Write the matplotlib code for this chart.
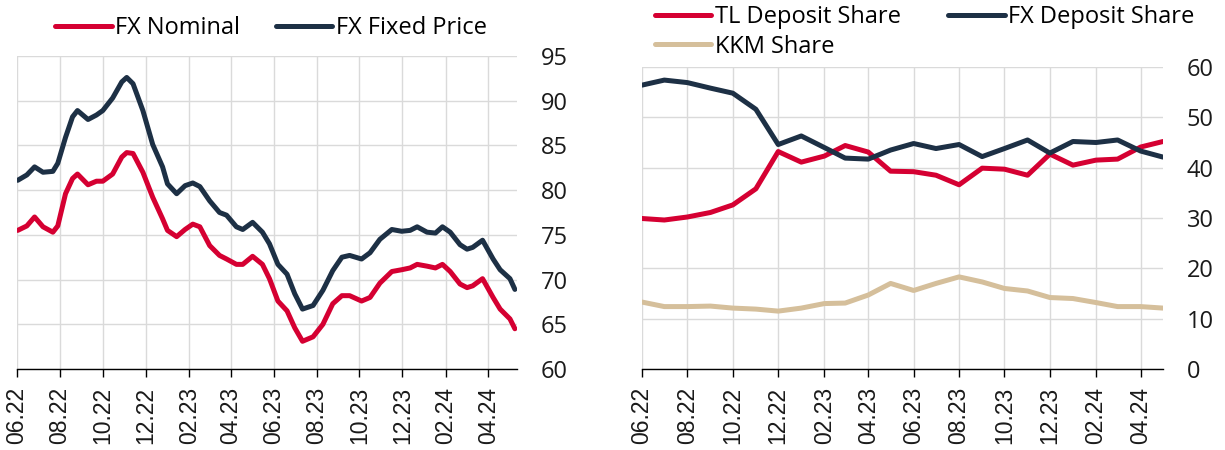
import matplotlib
matplotlib.use('Agg')
import matplotlib.pyplot as plt
import matplotlib.dates as mdates
import pandas as pd

# ---------------- Data ----------------
fx_dates = ['2022-06-02', '2022-06-15', '2022-06-26', '2022-07-08', '2022-07-22', '2022-07-29',
            '2022-08-09', '2022-08-19', '2022-08-26', '2022-09-10', '2022-09-22', '2022-10-01',
            '2022-10-15', '2022-10-28', '2022-11-04', '2022-11-13', '2022-11-27', '2022-12-11',
            '2022-12-25', '2023-01-01', '2023-01-14', '2023-01-26', '2023-02-06', '2023-02-16',
            '2023-03-02', '2023-03-16', '2023-03-26', '2023-04-09', '2023-04-18', '2023-05-02',
            '2023-05-16', '2023-05-26', '2023-06-07', '2023-06-20', '2023-07-01', '2023-07-12',
            '2023-07-27', '2023-08-10', '2023-08-24', '2023-09-06', '2023-09-17', '2023-10-04',
            '2023-10-16', '2023-10-30', '2023-11-16', '2023-11-30', '2023-12-12', '2023-12-22',
            '2024-01-05', '2024-01-17', '2024-01-27', '2024-02-07', '2024-02-21', '2024-03-02',
            '2024-03-10', '2024-03-24', '2024-04-08', '2024-04-18', '2024-05-02', '2024-05-09']
fx_nominal = [75.5, 76.0, 77.0, 75.9, 75.3, 76.0, 79.6, 81.3, 81.8, 80.6, 81.0, 81.0,
              81.8, 83.7, 84.2, 84.1, 82.0, 79.2, 76.8, 75.5, 74.8, 75.6, 76.2, 75.9,
              73.8, 72.7, 72.3, 71.7, 71.7, 72.6, 71.7, 70.1, 67.6, 66.5, 64.6, 63.1,
              63.6, 65.0, 67.3, 68.2, 68.2, 67.6, 68.0, 69.6, 70.9, 71.1, 71.3, 71.7,
              71.5, 71.3, 71.7, 70.9, 69.5, 69.1, 69.3, 70.1, 68.0, 66.7, 65.6, 64.5]
fx_fixed = [81.1, 81.7, 82.6, 82.0, 82.1, 83.0, 85.9, 88.2, 88.9, 87.9, 88.4, 88.9,
            90.3, 92.1, 92.6, 91.9, 88.9, 85.1, 82.6, 80.7, 79.6, 80.5, 80.8, 80.4,
            78.8, 77.5, 77.2, 75.9, 75.6, 76.4, 75.3, 74.0, 71.7, 70.6, 68.4, 66.7,
            67.1, 68.8, 71.0, 72.5, 72.7, 72.3, 73.0, 74.5, 75.6, 75.4, 75.5, 75.9,
            75.3, 75.2, 75.9, 75.3, 73.9, 73.4, 73.6, 74.4, 72.3, 71.1, 70.1, 68.9]

share_months = pd.date_range('2022-06-01', periods=24, freq='MS')
tl_share = [29.9, 29.6, 30.2, 31.1, 32.6, 35.8, 43.2, 41.1, 42.3, 44.4, 43.1, 39.3,
            39.2, 38.5, 36.6, 39.9, 39.7, 38.5, 42.7, 40.5, 41.5, 41.7, 44.1, 45.2]
fx_share = [56.4, 57.4, 56.9, 55.8, 54.8, 51.6, 44.6, 46.3, 44.0, 41.9, 41.7, 43.5,
            44.8, 43.8, 44.6, 42.2, 43.8, 45.5, 42.9, 45.2, 45.0, 45.5, 43.3, 42.1]
kkm_share = [13.3, 12.4, 12.4, 12.5, 12.1, 11.9, 11.5, 12.1, 13.0, 13.1, 14.7, 17.0,
             15.6, 17.0, 18.3, 17.3, 16.0, 15.5, 14.2, 14.0, 13.2, 12.4, 12.4, 12.1]

left_yticks = [60, 65, 70, 75, 80, 85, 90, 95]
right_yticks = [0, 10, 20, 30, 40, 50, 60]

# ---------------- Style ----------------
RED = '#D50032'
NAVY = '#1D3045'
TAN = '#D5BF9B'
GRID = '#DADADA'
FS = 17
plt.rcParams['font.family'] = ['Open Sans', 'DejaVu Sans']

W, H = 1225, 450
fig = plt.figure(figsize=(W / 100, H / 100), dpi=100)


def px_axes(x0, x1, ytop, ybot):
    return fig.add_axes([x0 / W, 1 - ybot / H, (x1 - x0) / W, (ybot - ytop) / H])


def style(ax, yticks):
    for s in ['top', 'left', 'right']:
        ax.spines[s].set_visible(False)
    ax.spines['bottom'].set_color('black')
    ax.spines['bottom'].set_linewidth(1.0)
    ax.yaxis.tick_right()
    ax.set_yticks(yticks)
    ax.set_ylim(yticks[0], yticks[-1])
    ax.tick_params(axis='y', length=0, pad=17, labelsize=FS, labelcolor='#1a1a1a')
    ax.tick_params(axis='x', length=6, width=1, pad=7, labelsize=FS - 0.5,
                   labelcolor='#1a1a1a', labelrotation=90)
    ax.xaxis.set_major_locator(mdates.MonthLocator(bymonth=[2, 4, 6, 8, 10, 12]))
    ax.xaxis.set_major_formatter(mdates.DateFormatter('%m.%y'))
    ax.grid(True, color=GRID, linewidth=1.0)
    ax.set_axisbelow(True)


# Left panel
ax1 = px_axes(17, 517, 56, 369)
d1 = pd.to_datetime(fx_dates)
l1, = ax1.plot(d1, fx_nominal, color=RED, lw=3.6, solid_capstyle='round', solid_joinstyle='round', label='FX Nominal')
l2, = ax1.plot(d1, fx_fixed, color=NAVY, lw=3.6, solid_capstyle='round', solid_joinstyle='round', label='FX Fixed Price')
ax1.set_xlim(pd.Timestamp('2022-06-01'), pd.Timestamp('2024-05-12'))
style(ax1, left_yticks)
for lab in ax1.get_xticklabels():
    lab.set_family(['Liberation Sans', 'DejaVu Sans'])

fig.legend(handles=[l1, l2], loc='center', bbox_to_anchor=(271 / W, 1 - 28 / H),
           ncol=2, frameon=False, fontsize=FS, handlelength=2.4, handletextpad=0.15,
           columnspacing=1.5, borderpad=0)

# Right panel
ax2 = px_axes(642, 1163, 67, 369)
r1, = ax2.plot(share_months, tl_share, color=RED, lw=3.6, solid_capstyle='round', label='TL Deposit Share')
r2, = ax2.plot(share_months, fx_share, color=NAVY, lw=3.6, solid_capstyle='round', label='FX Deposit Share')
r3, = ax2.plot(share_months, kkm_share, color=TAN, lw=3.6, solid_capstyle='round', label='KKM Share')
ax2.set_xlim(share_months[0], share_months[-1])
style(ax2, right_yticks)
for lab in ax2.get_xticklabels():
    lab.set_family(['Liberation Sans', 'DejaVu Sans'])

fig.legend(handles=[r1, r3, r2], loc='upper left', bbox_to_anchor=(643 / W, 1 + 7 / H),
           ncol=2, frameon=False, fontsize=FS, handlelength=2.4, handletextpad=0.15,
           columnspacing=2.0, borderpad=0, labelspacing=0.25)

fig.savefig('out.png', dpi=100)
